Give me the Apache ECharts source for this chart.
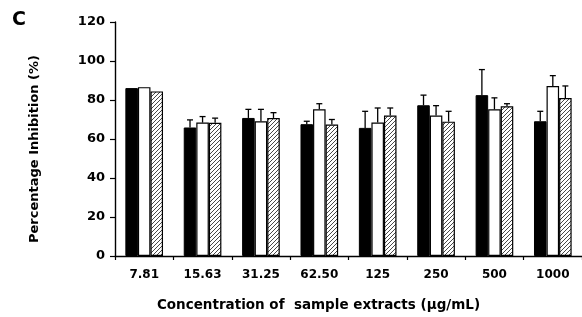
<!DOCTYPE html>
<html style="height: 100%">
<head>
<meta charset="utf-8">
<script src="https://cdn.jsdelivr.net/npm/echarts@6/dist/echarts.min.js"></script>
</head>
<body style="height: 100%; margin: 0; background: #fff">
<div id="container" style="width: 582px; height: 317px"></div>
<script type="text/javascript">
// concentrations (ug/mL)
var categories = ['7.81', '15.63', '31.25', '62.50', '125', '250', '500', '1000'];
// mean % inhibition, three extracts
var blackVals = [86.1, 65.9, 70.8, 67.6, 65.7, 77.3, 82.5, 69.1];
var whiteVals = [86.6, 68.4, 69.1, 75.2, 68.4, 72.0, 75.2, 87.2];
var hatchVals = [84.4, 68.3, 70.8, 67.4, 72.0, 68.9, 76.8, 81.0];
// top of error bar
var blackErr = [86.1, 69.8, 75.2, 69.1, 74.2, 82.5, 95.6, 74.2];
var whiteErr = [86.6, 71.5, 75.2, 78.1, 75.9, 77.1, 81.1, 92.5];
var hatchErr = [84.4, 70.7, 73.5, 70.0, 75.9, 74.2, 78.1, 87.2];
var yTicks = [0, 20, 40, 60, 80, 100, 120];

var font = '"DejaVu Sans", sans-serif';
var catGap = 0.355;

// hatch fill
var hatch = document.createElement('canvas');
hatch.width = 4; hatch.height = 4;
var hc = hatch.getContext('2d');
hc.fillStyle = '#fff';
hc.fillRect(0, 0, 4, 4);
hc.strokeStyle = '#333';
hc.lineWidth = 0.9;
hc.beginPath();
hc.moveTo(0, 4); hc.lineTo(4, 0);
hc.moveTo(-1, 1); hc.lineTo(1, -1);
hc.moveTo(3, 5); hc.lineTo(5, 3);
hc.stroke();

function errData(vals, tops) {
    return vals.map(function (v, i) { return [i, v, tops[i]]; });
}

function errSeries(k, vals, tops) {
    return {
        type: 'custom',
        z: 3,
        silent: true,
        data: errData(vals, tops),
        renderItem: function (params, api) {
            var base = api.coord([api.value(0), api.value(1)]);
            var top = api.coord([api.value(0), api.value(2)]);
            var band = api.size([1, 0])[0];
            var bw = band * (1 - catGap) / 3;
            var x = base[0] + (k - 1) * bw;
            if (base[1] - top[1] < 1) return null;
            var st = { stroke: '#000', lineWidth: 1.3 };
            return {
                type: 'group',
                children: [
                    { type: 'line', shape: { x1: x, y1: base[1], x2: x, y2: top[1] }, style: st },
                    { type: 'line', shape: { x1: x - 3, y1: top[1], x2: x + 3, y2: top[1] }, style: st }
                ]
            };
        }
    };
}

var myChart = echarts.init(document.getElementById('container'));
var option = {
    animation: false,
    backgroundColor: '#fff',
    title: {
        text: 'C',
        left: 7,
        top: 6,
        textStyle: { fontFamily: font, fontWeight: 'bold', fontSize: 19, color: '#000' }
    },
    grid: { left: 115, right: -4, top: 22, bottom: 59 },
    xAxis: {
        type: 'category',
        data: categories,
        name: 'Concentration of  sample extracts (\u00b5g/mL)',
        nameLocation: 'middle',
        nameGap: 42,
        nameTextStyle: { fontFamily: font, fontWeight: 'bold', fontSize: 13.5, color: '#000', padding: [0, 60, 0, 0] },
        axisLine: { lineStyle: { color: '#000', width: 1.4 } },
        axisTick: { show: true, length: 4, lineStyle: { color: '#000', width: 1.2 } },
        axisLabel: { fontFamily: font, fontWeight: 'bold', fontSize: 12, color: '#000', margin: 13 }
    },
    yAxis: {
        type: 'value',
        min: yTicks[0],
        max: yTicks[yTicks.length - 1],
        interval: 20,
        name: 'Percentage Inhibition (%)',
        nameLocation: 'middle',
        nameGap: 74,
        nameTextStyle: { fontFamily: font, fontWeight: 'bold', fontSize: 13, color: '#000', padding: [0, 20, 0, 0] },
        splitLine: { show: false },
        axisLine: { show: true, lineStyle: { color: '#000', width: 1.4 } },
        axisTick: { show: true, length: 5, lineStyle: { color: '#000', width: 1.2 } },
        axisLabel: { fontFamily: font, fontWeight: 'bold', fontSize: 13, color: '#000', margin: 10 }
    },
    series: [
        {
            type: 'bar', data: blackVals, barGap: '0%', barCategoryGap: (catGap * 100) + '%',
            itemStyle: { color: '#000', borderColor: '#000', borderWidth: 1 }
        },
        {
            type: 'bar', data: whiteVals, barGap: '0%', barCategoryGap: (catGap * 100) + '%',
            itemStyle: { color: '#fff', borderColor: '#000', borderWidth: 1.2 }
        },
        {
            type: 'bar', data: hatchVals, barGap: '0%', barCategoryGap: (catGap * 100) + '%',
            itemStyle: { color: { image: hatch, repeat: 'repeat' }, borderColor: '#000', borderWidth: 1.2 }
        },
        errSeries(0, blackVals, blackErr),
        errSeries(1, whiteVals, whiteErr),
        errSeries(2, hatchVals, hatchErr)
    ]
};
myChart.setOption(option);
</script>
</body>
</html>
